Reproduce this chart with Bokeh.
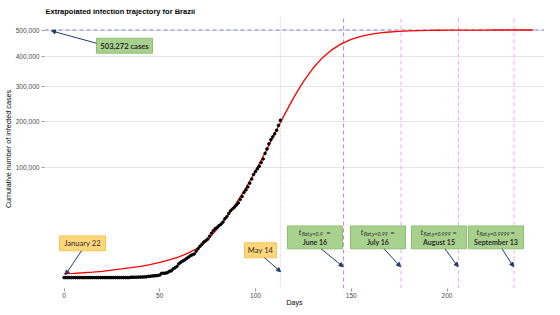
import numpy as np
from bokeh.plotting import figure
from bokeh.models import FixedTicker, Label, Arrow, NormalHead, Span
from bokeh.embed import file_html
from bokeh.resources import INLINE

# ---------------- data ----------------
obs_cases = [0] * 35 + [
    1, 1, 1, 1, 2, 2, 2, 4, 4, 13, 13, 20, 25, 31, 38, 52, 151, 151, 162, 200,
    321, 372, 621, 793, 1021, 1546, 1924, 2247, 2554, 2985, 3417, 3904, 4256, 4579, 5717,
    6836, 8044, 9056, 10360, 11130, 12161, 14034, 16170, 18092, 19638, 20727, 22192, 23430,
    25262, 28320, 30425, 33682, 36658, 38654, 40743, 43079, 45757, 50036, 54043, 59324,
    63100, 67446, 73235, 79685, 87187,
    92202, 97100, 101826, 108620, 115455, 126611, 135773, 146894, 156061, 162699, 169594,
    178214, 190137, 203165]
obs_days = list(range(len(obs_cases)))

fit_days = list(range(0, 250, 5))
fit_cases = [130, 150, 190, 240, 320, 450, 610, 800, 1050, 1400, 1890, 2600, 3500, 5000,
             7200, 11500, 19500, 30000, 45500, 66000, 93458, 127700, 169300, 216650,
             266700, 315500, 359700, 397000, 426700, 449200, 465700, 477400, 485600,
             491300, 495200, 497800, 499600, 500800, 501600, 502200, 502500, 502800,
             502950, 503050, 503120, 503170, 503200, 503220, 503240, 503250]

final_size = 503272
final_label = "503,272 cases"
start_day, start_label = 0, "January 22"
last_day, last_label = 113, "May 14"
flat_days = [146, 176, 206, 235]
flat_subs = ["flat,y=0.9", "flat,y=0.99", "flat,y=0.999", "flat,y=0.9999"]
flat_dates = ["June 16", "July 16", "August 15", "September 13"]

x_ticks = [0, 50, 100, 150, 200]
y_tick_values = [100000, 200000, 300000, 400000, 500000]
y_tick_labels = ["100,000", "200,000", "300,000", "400,000", "500,000"]

# ---------------- placement helpers (picture px) ----------------
X0, KX = 64.5, 1.915   # picture px of day 0, px per day
Y0, KY = 278.0, 0.3515  # picture px of 0 cases, px per sqrt-unit
FIG_X, FIG_Y = 8, -1    # where the figure's corner lands in the picture
W, H = 544, 308
FL, FT, FB = 45, 8, 289  # frame edges in the picture
FR_SEEN = 545           # observed right edge of the frame


def dx(px):
    return (px - X0) / KX


def dy(py):
    return (Y0 - py) / KY


FONT = "Liberation Sans"
BOXFONT = "Lato"
NAVY = "#1f3a70"
TXT = "#2b2b2b"
GREEN_F, GREEN_L = "#a9d18e", "#8fbf72"
YEL_F, YEL_L = "#ffd77a", "#f3c35a"

p = figure(width=W, height=H, output_backend="svg", toolbar_location=None,
           x_range=(dx(FL), dx(FR_SEEN)), y_range=(dy(FB), dy(FT)),
           min_border_left=FL - FIG_X, min_border_right=0, min_border_top=FT - FIG_Y,
           min_border_bottom=FIG_Y + H - FB)
p.outline_line_color = None
p.background_fill_color = "white"

# axes
p.xaxis.ticker = FixedTicker(ticks=x_ticks)
p.yaxis.ticker = FixedTicker(ticks=[float(np.sqrt(v)) for v in y_tick_values])
p.yaxis.major_label_overrides = {float(np.sqrt(v)): l for v, l in zip(y_tick_values, y_tick_labels)}
for ax in (p.xaxis, p.yaxis):
    ax.axis_line_color = None
    ax.major_tick_line_color = "#9a9a9a"
    ax.major_tick_out = 3
    ax.major_tick_in = 0
    ax.minor_tick_line_color = None
    ax.major_label_text_font = FONT
    ax.major_label_text_font_size = "6.6px"
    ax.major_label_text_color = "#4d4d4d"
    ax.axis_label_text_font = FONT
    ax.axis_label_text_font_style = "normal"
    ax.axis_label_text_color = "black"
p.xaxis.axis_label = "Days"
p.xaxis.axis_label_text_font_size = "7px"
p.xaxis.major_label_standoff = 1
p.xaxis.axis_label_standoff = -2
p.yaxis.axis_label = "Cumulative number of infected cases"
p.yaxis.axis_label_text_font_size = "7.2px"
p.yaxis.major_label_standoff = 2
p.yaxis.axis_label_standoff = 0

p.xgrid.grid_line_color = None
p.ygrid.ticker = FixedTicker(ticks=[float(np.sqrt(v)) for v in y_tick_values])
p.ygrid.grid_line_color = "#e6e6e6"
p.ygrid.grid_line_width = 1

# reference lines
p.add_layout(Span(location=float(np.sqrt(final_size)), dimension="width", line_color="#7d7de0",
                  line_dash="4 3", line_width=1, level="underlay"))
vy0, vy1 = dy(289), dy(16)
p.segment(x0=[last_day], x1=[last_day], y0=[vy0], y1=[vy1], line_color="#e2b6e6",
          line_dash="1 2", line_width=1.2)
p.segment(x0=flat_days[:1], x1=flat_days[:1], y0=[vy0], y1=[vy1], line_color="#b986c6",
          line_dash="4 3", line_width=1)
p.segment(x0=flat_days[1:], x1=flat_days[1:], y0=[vy0] * 3, y1=[vy1] * 3, line_color="#f2a6f2",
          line_dash="4 3", line_width=1)

# fitted curve and observations
p.line(fit_days, np.sqrt(fit_cases), line_color="red", line_width=1.3)
p.scatter(obs_days, np.sqrt(obs_cases), size=2.6, color="black")

# title
p.add_layout(Label(x=dx(46), y=dy(10.5), text="Extrapolated infection trajectory for  Brazil",
                   text_font=FONT, text_font_size="7.5px", text_font_style="bold",
                   text_baseline="middle", text_align="left", text_color="black"))


def box(l, r, t, b, fill, line):
    p.quad(left=[dx(l)], right=[dx(r)], top=[dy(t)], bottom=[dy(b)],
           fill_color=fill, line_color=line, line_width=1)


def txt(x, y, s, size="7.5px", style="normal", align="center", color=TXT):
    p.add_layout(Label(x=dx(x), y=dy(y), text=s, text_font=BOXFONT, text_font_size=size,
                       text_font_style=style, text_align=align, text_baseline="middle",
                       text_color=color))


def arrow(x0, y0, x1, y1):
    p.add_layout(Arrow(x_start=dx(x0), y_start=dy(y0), x_end=dx(x1), y_end=dy(y1),
                       line_color=NAVY, line_width=1,
                       end=NormalHead(size=4, fill_color=NAVY, line_color=NAVY)))


# final size callout
box(97, 153, 37, 52, GREEN_F, GREEN_L)
txt(125, 44.5, final_label, size="7.6px", style="bold")
arrow(97, 42, 52, 29.5)

# start / end of data
box(60, 106, 236, 251, YEL_F, YEL_L)
txt(83, 243.5, start_label, size="7.6px")
arrow(82, 251, 66, 275)

box(245, 277, 243, 258, YEL_F, YEL_L)
txt(261, 250.5, last_label, size="7.6px")
arrow(265, 258, 281, 272)

# flatness callouts
box_lefts = [288, 351, 412, 469]
box_w = 55
for bl, sub, date, d in zip(box_lefts, flat_subs, flat_dates, flat_days):
    box(bl, bl + box_w, 226, 249, GREEN_F, GREEN_L)
    cx = bl + box_w / 2
    sub_w = len(sub) * 2.15
    tl = cx - (sub_w + 11) / 2
    txt(tl, 232.5, "t", size="7.5px", style="italic", align="left")
    txt(tl + 3, 234.5, sub, size="5.2px", style="italic", align="left")
    txt(tl + 6 + sub_w, 232.5, "=", size="7.5px", align="left")
    txt(cx, 242, date, size="7px", style="bold")
    ax_ = X0 + KX * d
    arrow(cx + 6, 249, ax_ - 0.5, 267)

open("out.html", "w").write(file_html(p, INLINE))
